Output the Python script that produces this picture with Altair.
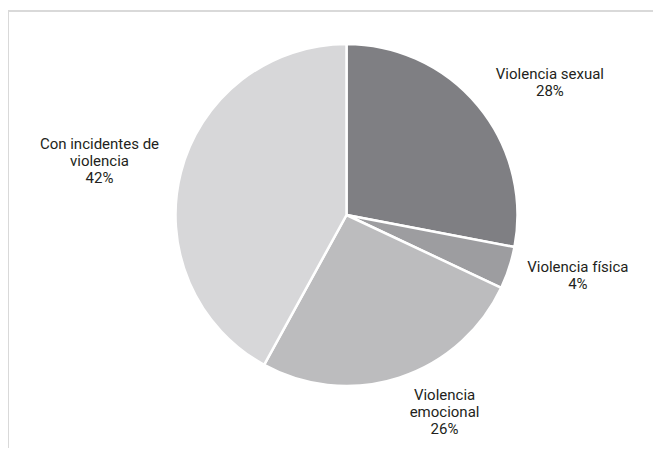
import altair as alt
import pandas as pd

# ---- data ----
categorias = ["Violencia sexual", "Violencia física", "Violencia emocional", "Con incidentes de violencia"]
etiquetas = ["Violencia sexual\n28%", "Violencia física\n4%", "Violencia\nemocional\n26%", "Con incidentes de\nviolencia\n42%"]
porcentajes = [28, 4, 26, 42]
colores = ["#7f7f83", "#9d9da0", "#bcbcbe", "#d7d7d9"]

df = pd.DataFrame({"categoria": categorias, "valor": porcentajes,
                   "etiqueta": etiquetas, "orden": list(range(len(categorias)))})

# ---- layout (label nudges from the slice-midpoint anchor, in px) ----
CX, CY = 333.5, 202
R_PIE = 171
R_LABEL = 238
LINE_H = 17
nudges = {
    "Violencia sexual": (20, 19),
    "Violencia física": (5, -13.5),
    "Violencia emocional": (24.5, -29),
    "Con incidentes de violencia": (-16.5, 5),
}

base = alt.Chart(df).encode(
    theta=alt.Theta("valor:Q", stack=True),
    order=alt.Order("orden:O"),
    x=alt.value(CX), y=alt.value(CY),
)

pie = base.mark_arc(outerRadius=R_PIE, stroke="white", strokeWidth=2.5).encode(
    color=alt.Color("categoria:N", scale=alt.Scale(domain=categorias, range=colores), legend=None)
)

layers = []
for cat, etq in zip(categorias, etiquetas):
    n = etq.count("\n") + 1
    dx, dy = nudges[cat]
    layers.append(
        base.mark_text(radius=R_LABEL, fontSize=15, font="Roboto", color="#231f20",
                       lineBreak="\n", lineHeight=LINE_H, align="center", baseline="middle",
                       dx=dx, dy=dy - (n - 1) * LINE_H / 2)
        .encode(text="etiqueta:N", opacity=alt.condition(alt.datum.categoria == cat, alt.value(1), alt.value(0)))
    )

frame = alt.Chart(pd.DataFrame({"k": [0]})).mark_rect(
    fill="white", fillOpacity=0, stroke="#d9d9d9", strokeWidth=2
).encode(x=alt.value(-5), y=alt.value(-2), x2=alt.value(900), y2=alt.value(900))

chart = alt.layer(frame, pie, *layers).properties(
    width=640, height=435, autosize="none",
    padding={"left": 5, "top": 5, "right": 0, "bottom": 0},
).configure_view(strokeWidth=0)

chart.save("out.html", embed_options={"renderer": "svg", "actions": False})
